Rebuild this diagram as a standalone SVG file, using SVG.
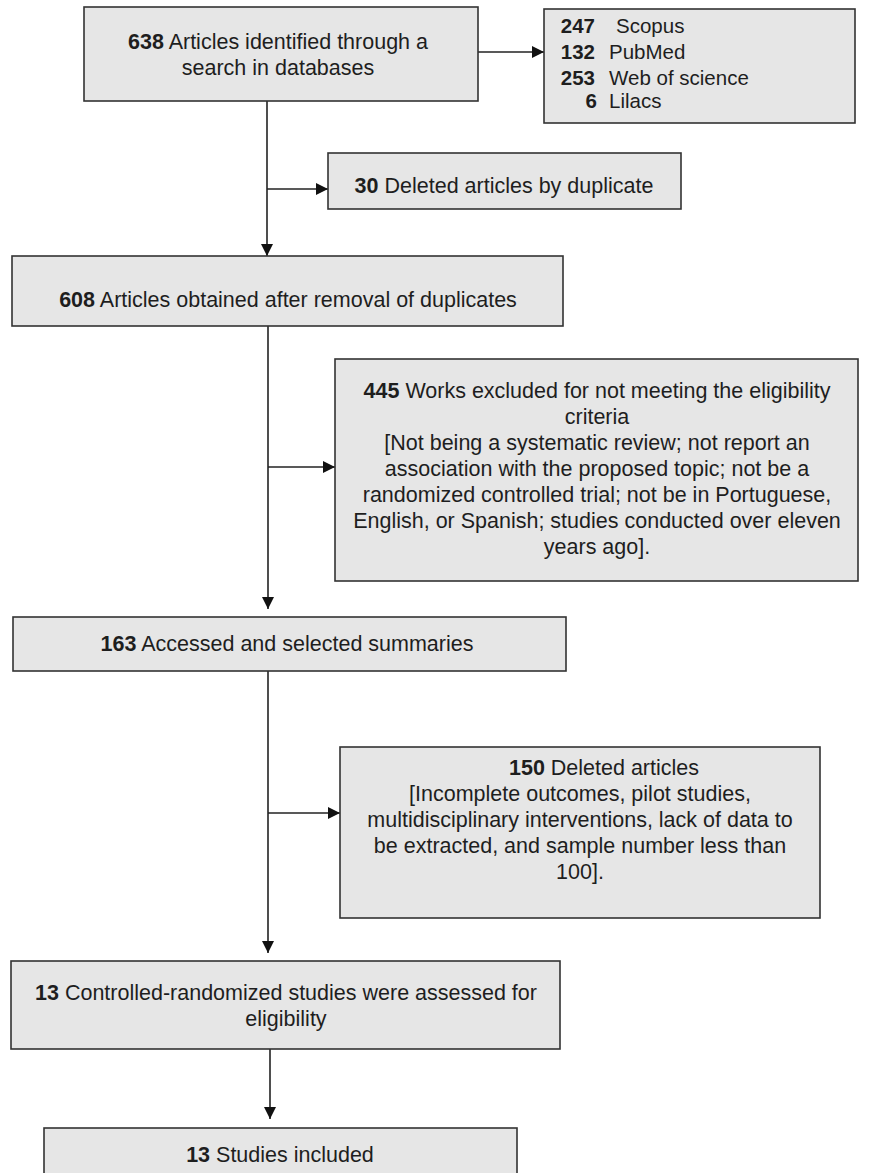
<svg xmlns="http://www.w3.org/2000/svg" width="869" height="1173" viewBox="0 0 869 1173">
<style>
.box{fill:#e6e6e6;stroke:#333;stroke-width:1.6}
.t{font-family:"Liberation Sans",Arial,sans-serif;font-size:21.5px;fill:#1e1e1e;text-anchor:middle}
.s{font-family:"Liberation Sans",Arial,sans-serif;font-size:20.5px;fill:#1e1e1e}
.b{font-weight:bold}
.ln{fill:none;stroke:#222;stroke-width:1.6}
</style>
<defs>
<marker id="ahb" viewBox="0 0 10 10" refX="10" refY="5" markerWidth="12" markerHeight="12" orient="auto" markerUnits="userSpaceOnUse">
<path d="M0,0 L10,5 L0,10 z" fill="#111"/>
</marker>
</defs>
<rect width="869" height="1173" fill="#ffffff"/>

<g id="connectors">
<line class="ln" x1="478" y1="52" x2="544" y2="52" marker-end="url(#ahb)"/>
<line class="ln" x1="267" y1="101" x2="267" y2="256" marker-end="url(#ahb)"/>
<line class="ln" x1="267" y1="189" x2="328" y2="189" marker-end="url(#ahb)"/>
<line class="ln" x1="268" y1="326" x2="268" y2="609" marker-end="url(#ahb)"/>
<line class="ln" x1="268" y1="467" x2="335" y2="467" marker-end="url(#ahb)"/>
<line class="ln" x1="268" y1="671" x2="268" y2="953" marker-end="url(#ahb)"/>
<line class="ln" x1="268" y1="813" x2="340" y2="813" marker-end="url(#ahb)"/>
<line class="ln" x1="270" y1="1049" x2="270" y2="1119" marker-end="url(#ahb)"/>
</g>

<g id="n1">
<rect class="box" x="84" y="7" width="394" height="94"/>
<text class="t" x="278" y="49"><tspan class="b">638</tspan> Articles identified through a</text>
<text class="t" x="278" y="75">search in databases</text>
</g>

<g id="n2">
<rect class="box" x="544" y="9" width="311" height="114"/>
<text class="s b" x="595" y="33" text-anchor="end">247</text>
<text class="s" x="616" y="33">Scopus</text>
<text class="s b" x="595" y="59" text-anchor="end">132</text>
<text class="s" x="609" y="59">PubMed</text>
<text class="s b" x="595" y="85" text-anchor="end">253</text>
<text class="s" x="609" y="85">Web of science</text>
<text class="s b" x="597" y="108" text-anchor="end">6</text>
<text class="s" x="609" y="108">Lilacs</text>
</g>

<g id="n3">
<rect class="box" x="328" y="153" width="353" height="56"/>
<text class="t" x="504" y="193"><tspan class="b">30</tspan> Deleted  articles by duplicate</text>
</g>

<g id="n4">
<rect class="box" x="12" y="256" width="551" height="70"/>
<text class="t" x="288" y="307"><tspan class="b">608</tspan> Articles obtained after removal  of duplicates</text>
</g>

<g id="n5">
<rect class="box" x="335" y="359" width="523" height="222"/>
<text class="t" x="597" y="398"><tspan class="b">445</tspan> Works excluded for not meeting the eligibility</text>
<text class="t" x="597" y="424">criteria</text>
<text class="t" x="597" y="450">[Not being a systematic review;  not report  an</text>
<text class="t" x="597" y="476">association with the proposed  topic; not be a</text>
<text class="t" x="597" y="502">randomized  controlled trial; not be in Portuguese,</text>
<text class="t" x="597" y="528">English, or Spanish; studies conducted over  eleven</text>
<text class="t" x="597" y="554">years ago].</text>
</g>

<g id="n6">
<rect class="box" x="13" y="617" width="553" height="54"/>
<text class="t" x="287" y="651"><tspan class="b">163</tspan>  Accessed and  selected summaries</text>
</g>

<g id="n7">
<rect class="box" x="340" y="747" width="480" height="171"/>
<text class="t" x="604" y="775"><tspan class="b">150</tspan> Deleted articles</text>
<text class="t" x="580" y="801">[Incomplete  outcomes, pilot studies,</text>
<text class="t" x="580" y="827">multidisciplinary interventions,  lack of data to</text>
<text class="t" x="580" y="853">be extracted,  and sample number  less than</text>
<text class="t" x="580" y="879">100].</text>
</g>

<g id="n8">
<rect class="box" x="11" y="961" width="549" height="88"/>
<text class="t" x="286" y="1000"><tspan class="b">13</tspan> Controlled-randomized  studies were  assessed for</text>
<text class="t" x="286" y="1026">eligibility</text>
</g>

<g id="n9">
<rect class="box" x="44" y="1128" width="473" height="60"/>
<text class="t" x="280" y="1162"><tspan class="b">13</tspan> Studies included</text>
</g>
</svg>
